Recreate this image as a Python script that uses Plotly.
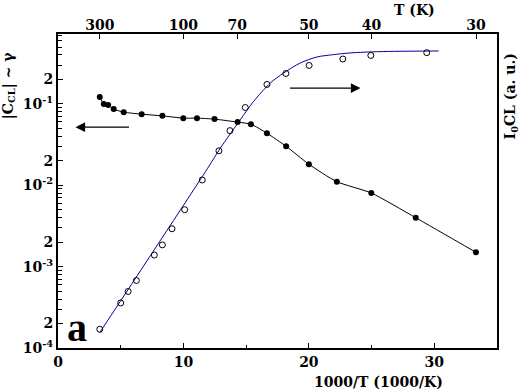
import plotly.graph_objects as go
import numpy as np

# |C_CL| ~ gamma (filled circles), x = 1000/T
c_x = [3.33, 3.65, 4.00, 4.44, 5.24, 6.67, 8.32, 9.99, 11.08, 12.48, 14.32, 15.38,
       16.66, 18.19, 20.0, 22.23, 24.98, 28.52, 33.32]
c_y = [0.1214, 0.100, 0.0966, 0.0863, 0.0792, 0.0748, 0.0713, 0.0668, 0.0668, 0.0650,
       0.0597, 0.0563, 0.0436, 0.0301, 0.01815, 0.01106, 0.00803, 0.00399, 0.00150]

# I0CL (open circles)
i_x = [3.33, 5.0, 5.59, 6.25, 7.68, 8.32, 9.09, 10.10, 11.50, 12.83, 13.71, 14.93,
       16.66, 18.17, 20.02, 22.71, 24.94, 29.40]
i_y = [1.70e-4, 3.58e-4, 4.95e-4, 6.76e-4, 1.387e-3, 1.85e-3, 2.92e-3, 5.01e-3, 0.01161,
       0.0265, 0.0469, 0.0903, 0.1734, 0.2365, 0.297, 0.356, 0.394, 0.426]

# fitted curve for I0CL (blue)
f_x = [3.33, 11.93, 12.94, 14.53, 15.59, 16.92, 17.98, 19.31, 20.64, 21.96, 23.29, 25.68, 30.35]
f_y = [1.55e-4, 0.01617, 0.02856, 0.0637, 0.1071, 0.180, 0.239, 0.318, 0.377, 0.403,
       0.423, 0.439, 0.447]

# tick labels
x_ticks = [0, 10, 20, 30]
x_minor = [5, 15, 25, 35]
t_labels = [300, 100, 70, 50, 40, 30]
y_tickvals = [1e-4, 2e-4, 1e-3, 2e-3, 1e-2, 2e-2, 1e-1, 2e-1]
y_ticktext = ["10<sup>-4</sup>", "2", "10<sup>-3</sup>", "2", "10<sup>-2</sup>", "2",
              "10<sup>-1</sup>", "2"]
y_minor = [m * 10.0 ** e for e in range(-4, 0) for m in range(3, 10)]

TF = dict(family="DejaVu Serif", size=14, color="black", weight="bold")

fig = go.Figure()
fig.add_trace(go.Scatter(x=f_x, y=f_y, mode="lines", line=dict(color="#0000a8", width=1, shape="spline", smoothing=0.8),
                         hoverinfo="skip", showlegend=False))
fig.add_trace(go.Scatter(x=c_x, y=c_y, mode="lines+markers",
                         line=dict(color="black", width=1, shape="spline", smoothing=0.6),
                         marker=dict(symbol="circle", size=6, color="black"), showlegend=False))
fig.add_trace(go.Scatter(x=i_x, y=i_y, mode="markers",
                         marker=dict(symbol="circle-open", size=6, color="black", line=dict(width=1)),
                         showlegend=False))
fig.add_trace(go.Scatter(x=[1000 / t for t in t_labels], y=[1e-3] * len(t_labels), xaxis="x2",
                         mode="markers", marker=dict(opacity=0), hoverinfo="skip", showlegend=False))

fig.update_layout(
    width=521, height=391,
    margin=dict(l=58, r=24, t=34, b=43),
    paper_bgcolor="white", plot_bgcolor="white",
    xaxis=dict(range=[0, 35], tickvals=x_ticks, ticks="inside", ticklen=5, tickwidth=1,
               tickcolor="black", showline=True, linecolor="black", linewidth=2, mirror=True,
               showgrid=False, zeroline=False, tickfont=TF, automargin=False,
               minor=dict(tickvals=x_minor, ticks="inside", ticklen=3, tickcolor="black")),
    xaxis2=dict(range=[0, 35], overlaying="x", side="top", anchor="y", automargin=False,
                tickvals=[1000 / t for t in t_labels], ticktext=[str(t) for t in t_labels],
                ticks="inside", ticklen=5, tickcolor="black", showgrid=False, zeroline=False,
                showline=False, tickfont=TF),
    yaxis=dict(type="log", range=[-4, -0.141], tickvals=y_tickvals, ticktext=y_ticktext,
               ticks="inside", ticklen=5, tickcolor="black", showline=True, linecolor="black",
               linewidth=2, mirror=True, showgrid=False, zeroline=False, tickfont=TF,
               automargin=False,
               minor=dict(tickvals=y_minor, ticks="inside", ticklen=4, tickcolor="black")),
)

TT = dict(family="DejaVu Serif", size=14, color="black", weight="bold")
C = dict(xref="paper", yref="paper", xanchor="center", yanchor="middle", showarrow=False)
fig.add_annotation(text="a", x=0.0444, y=0.065,
                   font=dict(family="Liberation Serif", size=40, color="black", weight="bold"), **C)
fig.add_annotation(text="|C<sub>CL</sub>| ~ γ", x=-0.113, y=0.838, textangle=-90, font=TT, **C)
fig.add_annotation(text="I<sub>0</sub>CL (a. u.)", x=1.031, y=0.80, textangle=-90, font=TT, **C)
fig.add_annotation(text="T (K)", x=0.812, y=1.0775, font=TT, **C)
fig.add_annotation(text="1000/T (1000/K)", x=0.73, y=-0.109, font=TT, **C)
# arrows pointing to the axis of each series
fig.add_annotation(x=0.0399, y=0.7033, ax=55, ay=0, xref="paper", yref="paper",
                   axref="pixel", ayref="pixel", text="", showarrow=True, arrowhead=2,
                   arrowsize=1.6, arrowwidth=1.2, arrowcolor="black")
fig.add_annotation(x=0.689, y=0.8277, ax=-72, ay=0, xref="paper", yref="paper",
                   axref="pixel", ayref="pixel", text="", showarrow=True, arrowhead=2,
                   arrowsize=1.6, arrowwidth=1.2, arrowcolor="black")

fig.write_html("out.html", config={"displayModeBar": False},
               post_script="document.body.style.margin='0';document.body.style.padding='0';")
